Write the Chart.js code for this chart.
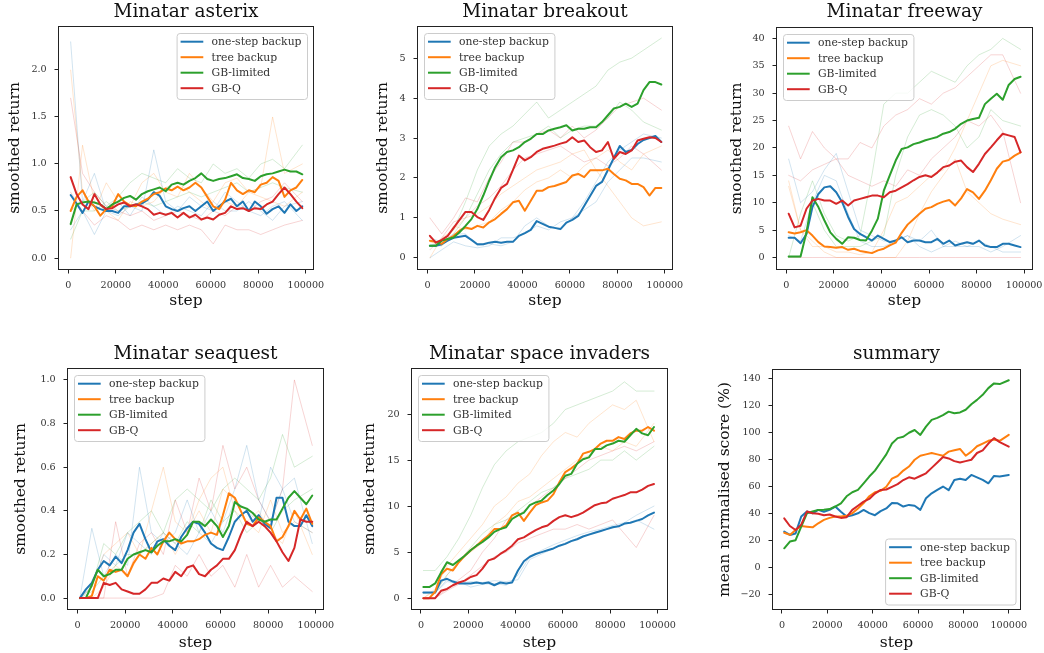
<!DOCTYPE html>
<html>
<head>
<meta charset="utf-8">
<script src="https://cdn.jsdelivr.net/npm/chart.js@4.4.1/dist/chart.umd.min.js"></script>
<style>
html, body { margin: 0; padding: 0; background: #fff; }
body { width: 1044px; height: 653px; position: relative; overflow: hidden; }
canvas { position: absolute; }
</style>
</head>
<body>
<script>
// ---- data ----
const methods = ['one-step backup', 'tree backup', 'GB-limited', 'GB-Q'];

const steps = [1000, 3500, 6000, 8500, 11000, 13500, 16000, 18500, 21000, 23500, 26000, 28500, 31000, 33500, 36000, 38500, 41000, 43500, 46000, 48500,
  51000, 53500, 56000, 58500, 61000, 63500, 66000, 68500, 71000, 73500, 76000, 78500, 81000, 83500, 86000, 88500, 91000, 93500, 96000, 98500];
const summarySteps = [1000, 3500, 6000, 8500, 11000, 13500, 16000, 18500, 21000, 23500, 26000, 28500, 31000, 33500, 36000, 38500, 41000, 43500, 46000, 48500,
  51000, 53500, 56000, 58500, 61000, 63500, 66000, 68500, 71000, 73500, 76000, 78500, 81000, 83500, 86000, 88500, 91000, 93500, 96000, 100000];
// individual runs are drawn coarser
const seedSteps = [1000, 6000, 11000, 16000, 21000, 26000, 31000, 36000, 41000, 46000, 51000, 56000, 61000, 66000, 71000, 76000, 81000, 86000, 91000, 98500];

const xTicks = [0, 20000, 40000, 60000, 80000, 100000];

// asterix
const asterixOneStep = [0.67,0.58,0.48,0.6,0.55,0.52,0.5,0.5,0.48,0.55,0.55,0.57,0.58,0.62,0.7,0.66,0.55,0.52,0.5,0.53,0.55,0.5,0.55,0.6,0.5,0.55,0.6,0.63,0.55,0.6,0.5,0.6,0.55,0.47,0.52,0.55,0.48,0.57,0.5,0.55];
const asterixTree = [0.5,0.65,0.72,0.6,0.55,0.45,0.52,0.55,0.68,0.6,0.56,0.55,0.6,0.63,0.68,0.7,0.74,0.72,0.76,0.72,0.75,0.8,0.75,0.65,0.55,0.52,0.62,0.8,0.72,0.68,0.72,0.7,0.78,0.8,0.86,0.82,0.65,0.72,0.75,0.83];
const asterixLimited = [0.36,0.57,0.59,0.6,0.59,0.57,0.52,0.57,0.6,0.64,0.66,0.62,0.68,0.71,0.73,0.75,0.71,0.78,0.8,0.78,0.82,0.85,0.9,0.84,0.82,0.84,0.85,0.87,0.89,0.85,0.84,0.82,0.87,0.89,0.9,0.92,0.94,0.92,0.92,0.89];
const asterixQ = [0.86,0.68,0.57,0.52,0.68,0.57,0.52,0.53,0.57,0.59,0.55,0.57,0.55,0.52,0.46,0.48,0.46,0.48,0.43,0.48,0.43,0.46,0.41,0.43,0.41,0.46,0.48,0.55,0.52,0.53,0.5,0.53,0.52,0.57,0.6,0.68,0.75,0.68,0.6,0.53];
const asterixOneStepSeeds = [[2.3,0.6,0.9,0.5,0.45,0.55,0.5,1.15,0.6,0.5,0.65,0.55,0.5,0.7,0.6,0.5,0.45,0.55,0.6,0.4],
  [0.3,0.5,0.25,0.5,0.6,0.45,0.65,0.55,0.45,0.55,0.5,0.45,0.6,0.5,0.5,0.6,0.5,0.4,0.55,0.6]];
const asterixTreeSeeds = [[2.0,0.7,0.5,0.8,0.6,0.55,0.8,0.9,0.7,0.65,0.9,0.75,0.6,0.8,0.85,0.7,0.75,1.5,0.9,1.0],
  [0.0,1.2,0.6,0.5,0.4,0.6,0.55,0.6,0.75,0.8,0.7,0.6,0.5,0.6,0.55,0.7,0.65,0.6,0.55,0.7]];
const asterixLimitedSeeds = [[0.5,0.6,0.7,0.55,0.65,0.8,0.9,0.85,0.8,0.95,0.85,0.8,1.0,0.9,0.95,0.85,1.0,1.05,0.95,1.2],
  [0.2,0.5,0.5,0.6,0.5,0.55,0.6,0.55,0.6,0.65,0.7,0.65,0.7,0.75,0.8,0.7,0.75,0.8,0.75,0.7]];
const asterixQSeeds = [[1.7,0.9,0.7,0.55,0.5,0.45,0.5,0.4,0.45,0.5,0.45,0.4,0.5,0.45,0.55,0.5,0.6,0.65,0.8,0.6],
  [0.7,0.5,0.35,0.45,0.4,0.3,0.35,0.3,0.35,0.3,0.35,0.3,0.15,0.35,0.3,0.3,0.25,0.3,0.35,0.4]];
const asterixYTicks = [0, 0.5, 1, 1.5, 2];

// breakout
const breakoutOneStep = [0.3,0.3,0.34,0.43,0.5,0.53,0.55,0.45,0.34,0.34,0.38,0.4,0.38,0.4,0.4,0.55,0.62,0.7,0.92,0.85,0.78,0.75,0.72,0.88,0.95,1.05,1.3,1.55,1.8,1.9,2.2,2.5,2.8,2.65,2.7,2.85,2.95,3.0,3.05,2.9];
const breakoutTree = [0.43,0.4,0.35,0.47,0.55,0.68,0.76,0.72,0.8,0.76,0.89,0.97,1.1,1.22,1.39,1.43,1.18,1.43,1.68,1.68,1.77,1.8,1.85,1.9,2.06,2.1,2.02,2.19,2.19,2.19,2.23,2.1,1.98,1.94,1.85,1.85,1.77,1.56,1.75,1.75];
const breakoutLimited = [0.3,0.3,0.43,0.47,0.51,0.64,0.8,0.97,1.22,1.56,1.93,2.27,2.52,2.65,2.69,2.77,2.9,2.98,3.1,3.1,3.19,3.23,3.27,3.32,3.19,3.23,3.23,3.27,3.27,3.4,3.57,3.74,3.78,3.86,3.78,3.86,4.2,4.4,4.4,4.34];
const breakoutQ = [0.55,0.38,0.45,0.55,0.75,0.95,1.15,1.15,1.02,0.95,1.2,1.5,1.75,1.85,2.2,2.56,2.44,2.52,2.65,2.73,2.77,2.81,2.86,2.9,3.02,2.9,2.94,2.77,2.65,2.69,2.9,2.48,2.65,2.6,2.69,2.94,2.98,3.02,3.0,2.9];
const breakoutOneStepSeeds = [[0.0,0.2,0.4,0.3,0.25,0.3,0.5,0.5,0.6,0.8,0.7,0.9,1.0,1.4,1.9,2.4,2.7,2.9,3.1,3.0],
  [0.5,0.4,0.6,0.6,0.3,0.35,0.3,0.4,0.8,1.0,0.8,0.7,1.0,1.2,1.4,1.9,2.2,2.5,2.5,2.4]];
const breakoutTreeSeeds = [[0.0,0.5,0.7,1.0,1.1,1.3,1.6,1.8,2.0,2.2,2.3,2.4,2.6,2.7,2.2,1.8,1.4,1.0,0.8,0.9],
  [0.4,0.3,0.8,0.7,0.8,0.9,1.2,1.4,1.7,1.9,2.0,2.2,2.0,2.3,2.5,2.7,2.4,2.2,2.6,2.8]];
const breakoutLimitedSeeds = [[0.3,0.4,0.7,1.4,2.2,2.8,3.1,3.3,3.6,3.9,3.5,3.7,3.9,4.1,4.3,4.7,4.9,5.0,5.2,5.5],
  [0.3,0.3,0.6,1.0,1.6,2.2,2.6,2.9,3.0,3.1,3.3,3.0,3.2,3.3,3.3,3.5,3.9,3.7,3.4,3.2]];
const breakoutQSeeds = [[1.0,0.6,1.0,1.5,1.4,2.0,2.4,2.9,2.9,3.1,3.2,3.0,3.3,3.0,3.2,3.5,3.8,3.9,4.0,3.7],
  [0.2,0.5,0.9,1.0,1.3,1.5,1.8,2.2,2.5,2.6,2.7,2.8,2.6,2.4,2.5,2.3,2.5,2.8,2.6,2.2]];
const breakoutYTicks = [0, 1, 2, 3, 4, 5];

// freeway
const freewayOneStep = [3.6,3.6,2.6,4.3,9.2,11.6,12.8,13.0,11.9,10.1,7.4,5.2,4.3,3.7,3.1,4.0,3.4,2.8,3.1,3.7,2.8,3.1,3.1,2.8,2.8,3.4,2.5,3.1,2.2,2.5,2.8,2.5,3.1,2.2,1.9,1.9,2.5,2.5,2.2,1.9];
const freewayTree = [4.6,4.4,4.6,5.0,4.0,2.8,2.0,1.9,1.8,1.9,1.4,1.6,1.2,1.0,0.8,1.3,1.6,2.2,2.7,4.5,6.0,7.0,8.0,8.9,9.2,9.8,10.2,10.5,9.5,10.8,12.5,11.9,10.7,12.2,14.1,16.2,17.5,17.8,18.6,19.2];
const freewayLimited = [0.2,0.2,0.2,4.6,11.0,9.2,6.8,4.6,3.4,2.5,3.7,3.6,3.2,3.1,4.9,7.1,12.2,15.0,17.7,19.8,20.1,20.7,21.0,21.4,21.7,22.0,22.6,22.9,23.5,24.4,25.0,25.3,25.5,28.0,29.0,29.9,28.8,31.5,32.6,33.0];
const freewayQ = [8.0,5.5,5.8,8.9,10.4,10.7,10.4,10.4,9.8,10.4,9.5,10.4,10.7,11.0,11.3,11.3,11.0,11.9,12.2,12.8,13.4,14.1,14.7,15.0,14.7,15.5,16.5,16.8,17.5,17.7,16.5,15.6,17.1,18.9,20.1,21.4,22.6,22.3,22.0,19.2];
const freewayOneStepSeeds = [[18,10,12,16,19,12,5,4,3,3,4,3,5,2,2,2,3,2,1,1],
  [4,3,10,15,14,8,3,2,2,3,4,2,1,2,3,2,2,1,2,4]];
const freewayTreeSeeds = [[14,5,2,2,1,1,0.5,1,5,10,11,13,15,16,20,25,30,35,36,35],
  [13,5,3,1,0,0,0,0,0,0,3,8,12,15,18,12,10,8,7,6]];
const freewayLimitedSeeds = [[0,8,14,8,4,3,4,15,28,30,30,32,34,33,32,35,37,38,40,38],
  [0,0,10,5,2,2,2,3,4,15,22,26,27,26,24,20,22,27,25,24]];
const freewayQSeeds = [[24,18,23,20,18,18,21,20,24,26,27,29,28,30,31,33,35,37,37,30],
  [15,14,16,17,18,15,14,13,14,13,16,15,18,20,22,25,24,26,23,10],
  [0,0,0,0,0,0,0,0,0,0,0,0,0,0,0,0,0,0,0,0]];
const freewayYTicks = [0, 5, 10, 15, 20, 25, 30, 35, 40];

// seaquest
const seaquestOneStep = [0,0.04,0.07,0.13,0.17,0.15,0.19,0.16,0.22,0.3,0.34,0.27,0.21,0.26,0.27,0.24,0.22,0.28,0.32,0.35,0.34,0.3,0.25,0.23,0.22,0.28,0.35,0.38,0.4,0.35,0.38,0.34,0.32,0.46,0.46,0.35,0.33,0.33,0.38,0.33];
const seaquestTree = [0,0,0.01,0.1,0.08,0.13,0.12,0.13,0.1,0.16,0.2,0.18,0.23,0.2,0.26,0.3,0.27,0.25,0.26,0.26,0.27,0.29,0.3,0.29,0.38,0.48,0.46,0.4,0.34,0.33,0.37,0.35,0.33,0.26,0.28,0.33,0.4,0.36,0.41,0.34];
const seaquestLimited = [0,0,0.06,0.13,0.1,0.11,0.13,0.13,0.18,0.2,0.21,0.22,0.21,0.24,0.26,0.26,0.27,0.26,0.29,0.35,0.35,0.33,0.36,0.33,0.28,0.33,0.44,0.42,0.41,0.39,0.36,0.35,0.36,0.36,0.41,0.46,0.49,0.46,0.43,0.47];
const seaquestQ = [0,0,0,0,0.07,0.06,0.07,0.04,0.03,0.02,0.02,0.04,0.07,0.07,0.09,0.08,0.12,0.1,0.14,0.15,0.11,0.1,0.13,0.15,0.18,0.18,0.22,0.29,0.35,0.33,0.35,0.33,0.3,0.26,0.21,0.17,0.23,0.36,0.35,0.35];
const seaquestOneStepSeeds = [[0,0.32,0.1,0.2,0.15,0.6,0.3,0.25,0.3,0.45,0.3,0.25,0.35,0.5,0.7,0.45,0.35,0.5,0.35,0.3],
  [0,0.05,0.2,0.15,0.3,0.25,0.2,0.3,0.25,0.2,0.3,0.4,0.3,0.45,0.4,0.35,0.6,0.5,0.55,0.25]];
const seaquestTreeSeeds = [[0,0.05,0.2,0.25,0.3,0.2,0.4,0.6,0.35,0.3,0.45,0.55,0.6,0.4,0.35,0.3,0.45,0.3,0.35,0.3],
  [0,0,0.05,0.15,0.1,0.2,0.25,0.3,0.2,0.3,0.4,0.3,0.5,0.45,0.35,0.4,0.3,0.25,0.4,0.2]];
const seaquestLimitedSeeds = [[0,0.05,0.25,0.2,0.3,0.35,0.4,0.3,0.45,0.5,0.45,0.4,0.5,0.55,0.5,0.45,0.55,0.75,0.6,0.65],
  [0,0.03,0.1,0.15,0.2,0.2,0.25,0.3,0.25,0.35,0.3,0.45,0.35,0.4,0.3,0.35,0.3,0.4,0.45,0.5]];
const seaquestQSeeds = [[0,0,0,0.35,0.1,0.25,0.3,0.2,0.45,0.3,0.55,0.4,0.7,0.5,0.6,0.45,0.35,0.5,1.0,0.7],
  [0,0,0,0,0,0,0,0.02,0.15,0.1,0.2,0.1,0.15,0.05,0.2,0.05,0.15,0.05,0.1,0.03]];
const seaquestYTicks = [0, 0.2, 0.4, 0.6, 0.8, 1.0];

// space invaders
const invadersOneStep = [0.6,0.6,0.6,1.9,2.1,1.8,1.6,1.6,1.6,1.7,1.6,1.7,1.4,1.7,1.6,1.7,3.0,4.0,4.5,4.8,5.0,5.2,5.4,5.7,5.9,6.2,6.4,6.7,6.9,7.1,7.3,7.5,7.7,7.8,8.1,8.2,8.4,8.6,9.0,9.3];
const invadersTree = [0,0,0.7,2.6,3.2,3.0,3.9,4.6,5.2,5.7,6.3,6.8,7.5,7.5,7.9,9.0,9.3,8.4,9.3,10.1,10.4,10.6,11.3,12.6,13.7,14.1,14.6,15.7,15.9,16.2,16.8,17.1,17.1,17.5,17.3,17.9,18.2,18.2,18.6,18.2];
const invadersLimited = [1.2,1.2,1.6,2.8,3.9,3.6,4.1,4.6,5.2,5.7,6.1,6.6,7.2,7.5,7.7,8.6,9.0,9.3,10.1,10.4,10.6,11.2,11.7,12.4,13.3,13.5,14.6,15.1,15.3,16.2,16.2,16.6,16.8,17.1,17.0,17.7,18.4,17.9,17.7,18.6];
const invadersQ = [0,0,0,0.8,1.0,1.4,1.7,1.9,2.3,2.5,3.2,4.1,4.3,4.8,5.2,5.7,6.4,6.6,7.0,7.4,7.7,7.9,8.4,8.8,9.0,8.8,9.0,9.3,9.7,10.1,10.3,10.4,10.8,11.0,11.2,11.5,11.5,11.8,12.2,12.4];
const invadersOneStepSeeds = [[0.6,0.6,2.0,1.8,1.2,1.5,1.6,1.4,2.5,4.5,5.2,5.8,6.3,6.8,7.2,7.5,7.9,8.2,9.0,10.0],
  [0.6,0.6,1.8,1.6,1.8,1.7,1.9,1.8,2.0,4.2,4.8,5.4,6.0,6.5,7.0,7.3,7.6,8.0,8.5,7.5]];
const invadersTreeSeeds = [[0,1.0,3.5,5.0,6.5,8.0,10.0,11.0,12.5,13.5,15.5,17.0,18.0,17.5,19.0,20.0,21.0,20.5,21.5,17.0],
  [0,0.8,2.5,4.0,5.0,6.0,8.0,9.0,10.5,11.0,12.0,13.0,14.0,15.0,15.5,16.5,16.0,17.0,16.5,19.0]];
const invadersLimitedSeeds = [[3.0,3.0,4.5,6.5,9.0,12.0,14.5,16.0,17.0,17.5,18.0,19.0,20.5,21.0,21.5,22.0,22.5,23.5,22.5,22.5],
  [0.5,0.6,2.5,4.0,5.5,7.0,8.0,8.5,9.5,10.5,11.5,12.0,13.0,13.5,14.0,15.0,15.0,16.0,15.0,16.5]];
const invadersQSeeds = [[0,0,1.0,2.0,3.0,5.0,6.5,8.5,9.0,10.0,11.0,12.0,13.0,14.0,15.0,15.5,16.0,16.5,16.0,17.0],
  [0,0,0.8,1.5,2.5,3.5,4.5,5.0,6.0,6.5,7.0,7.5,7.5,8.0,7.5,8.0,8.5,7.0,5.5,9.0]];
const invadersYTicks = [0, 5, 10, 15, 20];

// summary
const summaryOneStep = [26.9,24.4,25.5,38,41.7,40.4,42.9,41.5,42.9,45.4,41.5,38,39,40.4,42.9,40.5,39,42,44,48,47.8,45.4,46.6,46,42.9,51.5,55.2,57.7,60.2,57.5,65.1,66,65,68.8,67,65.1,62.6,68,67.6,68.8];
const summaryTree = [26,24.4,28,31,30.5,30,33,35.5,37,38,38,38.5,40.4,44,48,53,56,57,60,66,68,72,75,80,83,84,85,84,83,86,87,88,83,86,90,92,94,95,94,98.4];
const summaryLimited = [14.5,19.5,20.5,30.5,40.4,41.7,42.9,43,43.5,45.4,47.8,53,56,57.7,62.6,67.6,72,78,84,92,96,97,100,102,98.4,104.5,109.5,111,113,115.6,114.4,115,117,121,124.3,128,133,136.5,136,138.8];
const summaryQ = [36.7,31,28,32,41.7,40.4,40,39,39.5,38,37,37.5,42.9,46,49,51,55,57.7,58,60,62,65,67,66,68,70,74,78,82,81,79,78,79,80,85,87,92,96,93,89.7];
const summaryYTicks = [-20, 0, 20, 40, 60, 80, 100, 120, 140];

// ---- styling ----
const SERIF = '"DejaVu Serif", "Liberation Serif", serif';
const colors = ['#1f77b4', '#ff7f0e', '#2ca02c', '#d62728'];
const faded = ['rgba(31,119,180,0.25)', 'rgba(255,127,14,0.25)', 'rgba(44,160,44,0.25)', 'rgba(214,39,40,0.25)'];
const INK = '#222';

// panel layout: canvas = [left, top, right, bottom], box = plot area, titleMid = y of title centre
const panels = [
  { title: 'Minatar asterix', ylabel: 'smoothed return', xs: steps,
    series: [asterixOneStep, asterixTree, asterixLimited, asterixQ],
    seeds: [asterixOneStepSeeds, asterixTreeSeeds, asterixLimitedSeeds, asterixQSeeds],
    yTicks: asterixYTicks, dec: 1, yMin: -0.117, yMax: 2.457, xMin: -3900, xMax: 103000,
    canvas: [6, 0, 343, 310], box: [59, 27, 313, 269], titleMid: 12.5, legend: 'ur' },
  { title: 'Minatar breakout', ylabel: 'smoothed return', xs: steps,
    series: [breakoutOneStep, breakoutTree, breakoutLimited, breakoutQ],
    seeds: [breakoutOneStepSeeds, breakoutTreeSeeds, breakoutLimitedSeeds, breakoutQSeeds],
    yTicks: breakoutYTicks, dec: 0, yMin: -0.28, yMax: 5.78, xMin: -4000, xMax: 103000,
    canvas: [374, 0, 702, 310], box: [418, 27, 672, 269], titleMid: 12.5, legend: 'ul' },
  { title: 'Minatar freeway', ylabel: 'smoothed return', xs: steps,
    series: [freewayOneStep, freewayTree, freewayLimited, freewayQ],
    seeds: [freewayOneStepSeeds, freewayTreeSeeds, freewayLimitedSeeds, freewayQSeeds],
    yTicks: freewayYTicks, dec: 0, yMin: -2.1, yMax: 41.9, xMin: -3900, xMax: 103300,
    canvas: [728, 0, 1044, 310], box: [777, 28, 1032, 269], titleMid: 12.5, legend: 'ul' },
  { title: 'Minatar seaquest', ylabel: 'smoothed return', xs: steps,
    series: [seaquestOneStep, seaquestTree, seaquestLimited, seaquestQ],
    seeds: [seaquestOneStepSeeds, seaquestTreeSeeds, seaquestLimitedSeeds, seaquestQSeeds],
    yTicks: seaquestYTicks, dec: 1, yMin: -0.05, yMax: 1.05, xMin: -4000, xMax: 103000,
    canvas: [12, 330, 353, 652], box: [68, 369, 323, 609], titleMid: 354.5, legend: 'ul' },
  { title: 'Minatar space invaders', ylabel: 'smoothed return', xs: steps,
    series: [invadersOneStep, invadersTree, invadersLimited, invadersQ],
    seeds: [invadersOneStepSeeds, invadersTreeSeeds, invadersLimitedSeeds, invadersQSeeds],
    yTicks: invadersYTicks, dec: 0, yMin: -1.18, yMax: 24.9, xMin: -3800, xMax: 104000,
    canvas: [361, 330, 697, 652], box: [412, 369, 667, 609], titleMid: 354.5, legend: 'ul' },
  { title: 'summary', ylabel: 'mean normalised score (%)', xs: summarySteps,
    series: [summaryOneStep, summaryTree, summaryLimited, summaryQ],
    seeds: [],
    yTicks: summaryYTicks, dec: 0, yMin: -30.4, yMax: 146.4, xMin: -3950, xMax: 104950,
    canvas: [716, 330, 1044, 652], box: [773, 370, 1020, 609], titleMid: 354.5, legend: 'lr' },
];

// box round the plot area (all four spines)
const framePlugin = {
  id: 'frame',
  afterDatasetsDraw(chart) {
    const a = chart.chartArea, ctx = chart.ctx;
    ctx.save();
    ctx.strokeStyle = INK;
    ctx.lineWidth = 1;
    ctx.strokeRect(a.left - 0.5, a.top - 0.5, a.right - a.left + 1, a.bottom - a.top + 1);
    ctx.restore();
  }
};

// title centred over the axes, like matplotlib
const axesTitle = {
  id: 'axesTitle',
  afterDraw(chart, args, opts) {
    const a = chart.chartArea, ctx = chart.ctx;
    ctx.save();
    ctx.font = '18.5px ' + SERIF;
    ctx.fillStyle = '#111';
    ctx.textAlign = 'center';
    ctx.textBaseline = 'middle';
    ctx.fillText(opts.text, (a.left + a.right) / 2, opts.y);
    ctx.restore();
  }
};

// matplotlib-like legend box inside the axes
const boxLegend = {
  id: 'boxLegend',
  afterDraw(chart, args, opts) {
    const a = chart.chartArea, ctx = chart.ctx;
    const fs = 10.8, rowH = 15.5, padX = 4, lineLen = 22.7, gap = 8.3;
    ctx.save();
    ctx.font = fs + 'px ' + SERIF;
    const tw = Math.max(...methods.map(m => ctx.measureText(m).width));
    const w = padX + lineLen + gap + tw + 5.5, h = 66;
    const corner = opts.corner || 'ur';
    const off = corner[0] === 'l' ? 4.5 : 6;
    const x = corner[1] === 'l' ? a.left + off : a.right - off - w;
    const y = corner[0] === 'u' ? a.top + off : a.bottom - off - h;
    ctx.beginPath();
    ctx.roundRect(x + 0.5, y + 0.5, w, h, 3);
    ctx.fillStyle = 'rgba(255,255,255,0.8)';
    ctx.fill();
    ctx.strokeStyle = '#cccccc';
    ctx.lineWidth = 1;
    ctx.stroke();
    ctx.textBaseline = 'middle';
    ctx.textAlign = 'left';
    methods.forEach((m, i) => {
      const cy = y + 8.7 + i * rowH;
      ctx.beginPath();
      ctx.moveTo(x + padX, cy);
      ctx.lineTo(x + padX + lineLen, cy);
      ctx.strokeStyle = colors[i];
      ctx.lineWidth = 2;
      ctx.stroke();
      ctx.fillStyle = '#333';
      ctx.fillText(m, x + padX + lineLen + gap, cy + 0.5);
    });
    ctx.restore();
  }
};

function makeChart(p) {
  const [cl, ct, cr, cb] = p.canvas;
  const [pl, pt, pr, pb] = p.box;
  const cv = document.createElement('canvas');
  cv.width = cr - cl;
  cv.height = cb - ct;
  cv.style.left = cl + 'px';
  cv.style.top = ct + 'px';
  cv.style.width = (cr - cl) + 'px';
  cv.style.height = (cb - ct) + 'px';
  document.body.appendChild(cv);

  const datasets = [];
  p.seeds.forEach((group, m) => group.forEach(vals => datasets.push({
    data: vals.map((v, i) => ({ x: seedSteps[i], y: v })),
    borderColor: faded[m], borderWidth: 0.8, pointRadius: 0, order: 10
  })));
  p.series.forEach((vals, m) => datasets.push({
    label: methods[m],
    data: vals.map((v, i) => ({ x: p.xs[i], y: v })),
    borderColor: colors[m], borderWidth: 2, pointRadius: 0, order: 4 - m
  }));

  const tickFont = { family: SERIF, size: 9.6 };
  const labelFont = { family: SERIF, size: 15.5, lineHeight: 1.2 };
  const tickGrid = { display: true, drawOnChartArea: false, drawTicks: true, tickLength: 4.5, color: INK, lineWidth: 1 };

  new Chart(cv, {
    type: 'line',
    data: { datasets },
    options: {
      responsive: false,
      animation: false,
      events: [],
      devicePixelRatio: 1,
      elements: { line: { tension: 0, borderCapStyle: 'round', borderJoinStyle: 'round' } },
      layout: { padding: { left: 0, top: pt - ct, right: cr - pr, bottom: 0 } },
      plugins: {
        legend: { display: false },
        tooltip: { enabled: false },
        title: { display: false },
        axesTitle: { text: p.title, y: p.titleMid - ct },
        boxLegend: { corner: p.legend }
      },
      scales: {
        x: {
          type: 'linear', min: p.xMin, max: p.xMax, bounds: 'data',
          afterBuildTicks: s => { s.ticks = xTicks.map(v => ({ value: v })); },
          afterFit: s => { s.height = cb - pb; s.paddingLeft = 0; s.paddingRight = 0; },
          grid: tickGrid,
          border: { display: false },
          ticks: { font: tickFont, color: '#333', padding: 6, maxRotation: 0, autoSkip: false,
            callback: v => String(v) },
          title: { display: true, text: 'step', font: labelFont, color: '#111', padding: 0 }
        },
        y: {
          type: 'linear', min: p.yMin, max: p.yMax, bounds: 'data',
          afterBuildTicks: s => { s.ticks = p.yTicks.map(v => ({ value: v })); },
          afterFit: s => { s.width = pl - cl; s.paddingTop = 0; s.paddingBottom = 0; },
          grid: tickGrid,
          border: { display: false },
          ticks: { font: tickFont, color: '#333', padding: 7.8, autoSkip: false,
            callback: v => (p.dec ? v.toFixed(p.dec) : String(v)).replace('-', '\u2212') },
          title: { display: true, text: p.ylabel, font: labelFont, color: '#111', padding: 0 }
        }
      }
    },
    plugins: [framePlugin, axesTitle, boxLegend]
  });
}

panels.forEach(makeChart);
</script>
</body>
</html>
